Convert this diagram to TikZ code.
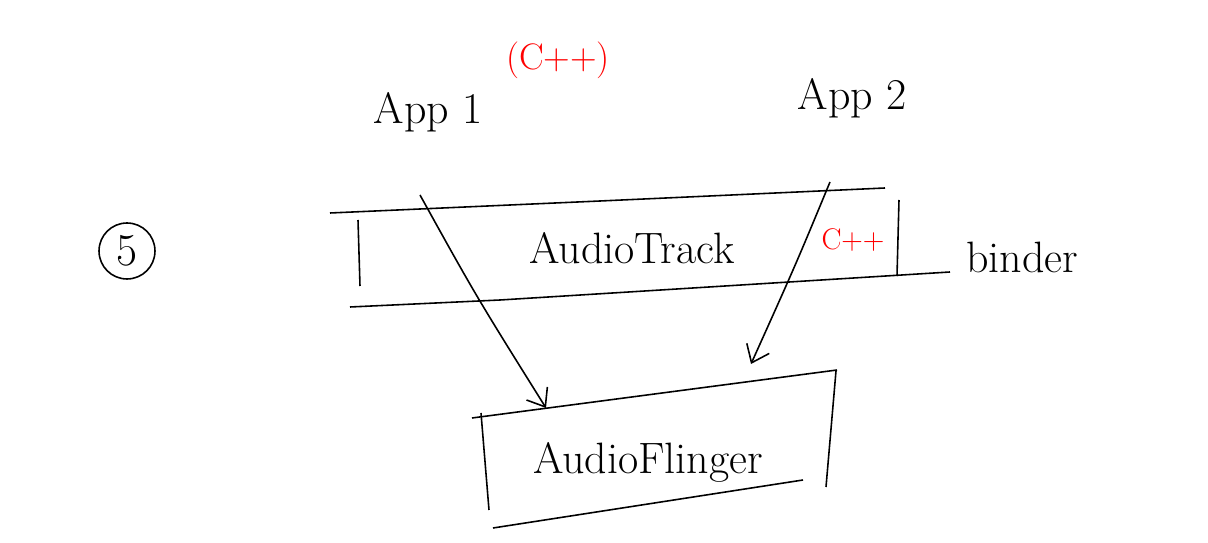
\documentclass[tikz,border=0pt]{standalone}
\usepackage{xcolor}
\usetikzlibrary{arrows.meta}

\tikzset{
	pen/.style={line width=0.9pt, black},
	label/.style={font=\fontsize{25}{30}\selectfont, inner sep=0pt},
	redlabel/.style={font=\fontsize{21}{25}\selectfont, text=red, inner sep=0pt},
	flow/.style={pen, -{Straight Barb[length=9pt, width=14pt]}}
}

\begin{document}
\begin{tikzpicture}[x=0.02cm, y=-0.02cm]
			\useasboundingbox (0,0) rectangle (1208,543);

			% circled step number
			\node[pen, draw, circle, minimum size=1.12cm, inner sep=0pt,
				font=\fontsize{26}{30}\selectfont] (five) at (127,251) {5};

			% apps on top
			\node[label] (app1) at (428,112) {App 1};
			\node[redlabel] (cpp) at (558,60) {(C++)};
			\node[label] (app2) at (852,98) {App 2};

			% AudioTrack band
			\draw[pen] (330,213) -- (600,201) -- (885,188);
			\draw[pen] (350,307) -- (500,300) -- (950,272);
			\draw[pen] (358,220) -- (360,286);
			\draw[pen] (899,200) -- (897,276);
			\node[label] (track) at (632,248) {AudioTrack};
			\node[redlabel, font=\fontsize{17}{20}\selectfont] (cppb) at (853,240) {C++};
			\node[label] (binder) at (1022,257) {binder};

			% AudioFlinger box
			\draw[pen] (472,418) -- (837,370);
			\draw[pen] (836,371) -- (826,487);
			\draw[pen] (493,528) -- (803,480);
			\draw[pen] (481,413) -- (489,510);
			\node[label] (flinger) at (648,462) {AudioFlinger};

			% calls through binder
			\coordinate (a1) at (420,195);
			\coordinate (a2) at (830,182);
			\coordinate (f1) at (546,408);
			\coordinate (f2) at (751,364);
			\draw[flow] (a1) .. controls (476,296) .. (f1);
			\draw[flow] (a2) .. controls (796,264) .. (f2);
		\end{tikzpicture}
\end{document}
